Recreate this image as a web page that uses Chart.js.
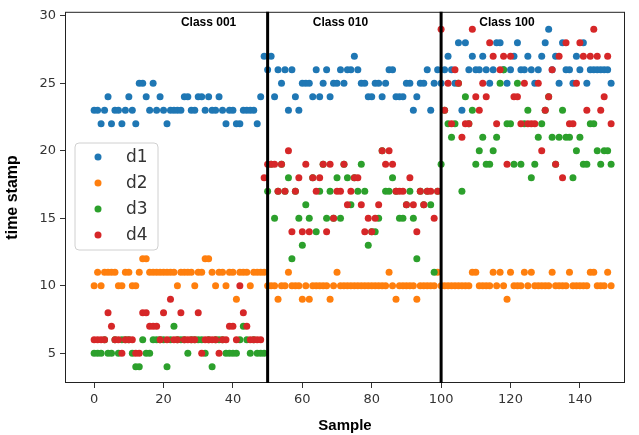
<!DOCTYPE html>
<html>
<head>
<meta charset="utf-8">
<script src="https://cdn.jsdelivr.net/npm/chart.js@4.4.0/dist/chart.umd.min.js"></script>
<style>
html,body{margin:0;padding:0;background:#fff;}
</style>
</head>
<body>
<canvas id="scatter_canvas" width="639" height="435"></canvas>
<script>
// values, one per sample (0..149)
var d1 = [23,23,22,23,24,22,23,23,22,23, 24,23,22,25,25,24,23,25,23,24,
          23,22,23,23,23,23,24,24,23,23, 24,24,23,24,23,23,24,23,22,23,
          23,22,22,23,23,23,23,22,24,27, 26,27,24,26,25,26,23,26,24,23,
          25,25,25,24,26,24,25,26,24,25, 25,26,25,26,26,27,26,25,25,24,
          24,25,25,24,25,26,26,24,24,24, 25,25,23,24,25,25,26,23,25,26,
          25,26,27,26,25,28,23,28,26,27, 26,26,27,26,25,26,28,28,26,25,
          26,27,28,26,26,27,26,25,26,27, 28,29,26,27,25,28,26,26,25,27,
          26,28,25,26,26,26,26,26,26,25];
var d2 = [10,11,10,11,11,11,11,10,10,11, 11,10,10,11,12,12,11,11,11,11,
          11,11,11,11,10,11,11,11,11,10, 11,11,12,12,11,10,11,11,10,11,
          11,9,11,11,11,10,11,11,11,11,  10,10,10,9,10,10,11,10,10,10,
          9,10,9,10,10,10,10,10,9,10,    11,10,10,10,10,10,10,10,10,10,
          10,10,10,10,10,11,10,9,10,10,  10,10,10,9,10,10,10,10,10,11,
          10,10,10,10,10,10,10,10,10,11, 11,10,10,10,10,11,10,11,10,9,
          11,10,10,10,11,10,11,10,10,10, 10,10,11,10,10,10,10,11,10,10,
          10,10,10,11,11,10,10,10,11,10];
var d3 = [5,5,5,6,5,5,6,5,6,6,       6,5,4,4,6,5,5,6,6,6,
          6,4,6,7,6,6,6,5,6,6,       6,6,5,6,4,6,6,6,5,5,
          5,5,6,7,6,5,6,5,5,5,       17,19,15,17,19,17,18,12,17,15,
          13,16,15,18,14,17,19,15,17,15, 18,15,19,18,16,18,17,19,17,13,
          14,14,15,20,17,17,18,17,15,15, 16,17,15,12,17,16,17,16,11,17,
          19,23,22,21,22,25,17,24,22,23, 19,20,21,19,19,20,21,25,26,22,
          22,19,25,19,22,23,18,19,21,22, 23,24,21,19,21,23,21,21,18,20,
          21,19,19,22,22,20,19,20,20,19];
var d4 = [6,6,6,6,8,7,6,6,5,6,       6,6,5,5,8,8,7,7,7,6,
          8,6,9,6,6,8,6,6,6,6,       8,5,6,6,6,6,5,6,6,7,
          7,6,10,8,7,6,6,6,6,18,     19,19,19,17,19,17,20,14,17,18,
          14,19,14,18,17,18,19,14,19,15, 17,17,19,16,17,18,18,16,14,15,
          14,15,16,20,19,20,19,17,17,17, 16,18,16,14,17,16,17,17,15,17,
          29,23,25,22,26,25,21,22,22,29, 24,23,25,24,28,27,22,26,27,19,
          27,24,24,22,25,22,22,22,25,20, 23,24,26,19,27,18,28,22,22,25,
          28,27,23,27,29,27,23,24,27,22];
var seriesNames = ['d1', 'd2', 'd3', 'd4'];
var seriesColors = ['#1f77b4', '#ff7f0e', '#2ca02c', '#d62728'];
var xTicks = [0, 20, 40, 60, 80, 100, 120, 140];
var yTicks = [5, 10, 15, 20, 25, 30];
var classBounds = [50, 100];
var classNames = ['Class 001', 'Class 010', 'Class 100'];
var classLabelX = [25, 63, 111];
var classLabelY = 29.45;

function toPoints(arr) {
    return arr.map(function (v, i) { return {x: i, y: v}; });
}

var allSeries = [d1, d2, d3, d4];
var datasets = allSeries.map(function (arr, i) {
    return {
        label: seriesNames[i],
        data: toPoints(arr),
        backgroundColor: seriesColors[i],
        borderWidth: 0,
        pointRadius: 3.5,
        order: 3 - i   // later series painted on top, as in the original
    };
});

// box round the axes, the class dividers and their captions
var framePlugin = {
    id: 'frame',
    afterDatasetsDraw: function (chart) {
        var ctx = chart.ctx, a = chart.chartArea, x = chart.scales.x, y = chart.scales.y;
        ctx.save();
        ctx.strokeStyle = '#222';
        ctx.lineWidth = 1;
        ctx.strokeRect(a.left + 0.5, a.top + 0.5, a.width - 1, a.height - 1);
        ctx.strokeStyle = '#000';
        ctx.lineWidth = 3;
        classBounds.forEach(function (v) {
            var px = x.getPixelForValue(v);
            ctx.beginPath();
            ctx.moveTo(px, a.top);
            ctx.lineTo(px, a.bottom);
            ctx.stroke();
        });
        ctx.font = 'bold 12px "Liberation Sans", Arial, sans-serif';
        ctx.fillStyle = '#000';
        ctx.textBaseline = 'middle';
        classNames.forEach(function (t, i) {
            ctx.fillText(t, x.getPixelForValue(classLabelX[i]), y.getPixelForValue(classLabelY));
        });
        ctx.restore();
    }
};

// matplotlib style legend box inside the plot
var legendPlugin = {
    id: 'boxLegend',
    afterDraw: function (chart) {
        var ctx = chart.ctx, a = chart.chartArea;
        var bx = a.left + 10, by = 143, bw = 83, bh = 107, r = 4;
        ctx.save();
        ctx.beginPath();
        ctx.moveTo(bx + r, by);
        ctx.arcTo(bx + bw, by, bx + bw, by + bh, r);
        ctx.arcTo(bx + bw, by + bh, bx, by + bh, r);
        ctx.arcTo(bx, by + bh, bx, by, r);
        ctx.arcTo(bx, by, bx + bw, by, r);
        ctx.closePath();
        ctx.fillStyle = 'rgba(255,255,255,0.85)';
        ctx.fill();
        ctx.strokeStyle = '#d0d0d0';
        ctx.lineWidth = 1;
        ctx.stroke();
        ctx.font = '17px "DejaVu Sans", sans-serif';
        ctx.textBaseline = 'middle';
        chart.data.datasets.forEach(function (ds, i) {
            var cy = by + 14 + i * 26;
            ctx.fillStyle = ds.backgroundColor;
            ctx.beginPath();
            ctx.arc(bx + 23, cy, 3.5, 0, Math.PI * 2);
            ctx.fill();
            ctx.fillStyle = '#333';
            ctx.fillText(ds.label, bx + 51, cy + 1);
        });
        ctx.restore();
    }
};

var ctx = document.getElementById('scatter_canvas').getContext('2d');
var chart = new Chart(ctx, {
    type: 'scatter',
    data: {datasets: datasets},
    options: {
        responsive: false,
        animation: false,
        layout: {padding: {top: 8, right: 14, left: 0, bottom: 0}},
        plugins: {legend: {display: false}, tooltip: {enabled: false}},
        scales: {
            x: {
                type: 'linear',
                min: -8.4,
                max: 153,
                afterBuildTicks: function (s) { s.ticks = xTicks.map(function (v) { return {value: v}; }); },
                ticks: {color: '#333', font: {family: 'DejaVu Sans', size: 13}, padding: 4, maxRotation: 0},
                grid: {drawOnChartArea: false, tickLength: 5, color: '#333'},
                border: {display: false},
                title: {display: true, text: 'Sample', color: '#000',
                        font: {family: 'Liberation Sans', weight: 'bold', size: 15}, padding: {top: 0, bottom: 0}},
                afterFit: function (s) { s.height = 52; }
            },
            y: {
                type: 'linear',
                min: 2.79,
                max: 30.29,
                afterBuildTicks: function (s) { s.ticks = yTicks.map(function (v) { return {value: v}; }); },
                ticks: {color: '#333', font: {family: 'DejaVu Sans', size: 13}, padding: 4},
                grid: {drawOnChartArea: false, tickLength: 5, color: '#333'},
                border: {display: false},
                title: {display: true, text: 'time stamp', color: '#000',
                        font: {family: 'Liberation Sans', weight: 'bold', size: 16}, padding: {top: 3, bottom: 0}},
                afterFit: function (s) { s.width = 65; }
            }
        }
    },
    plugins: [framePlugin, legendPlugin]
});
</script>
</body>
</html>
